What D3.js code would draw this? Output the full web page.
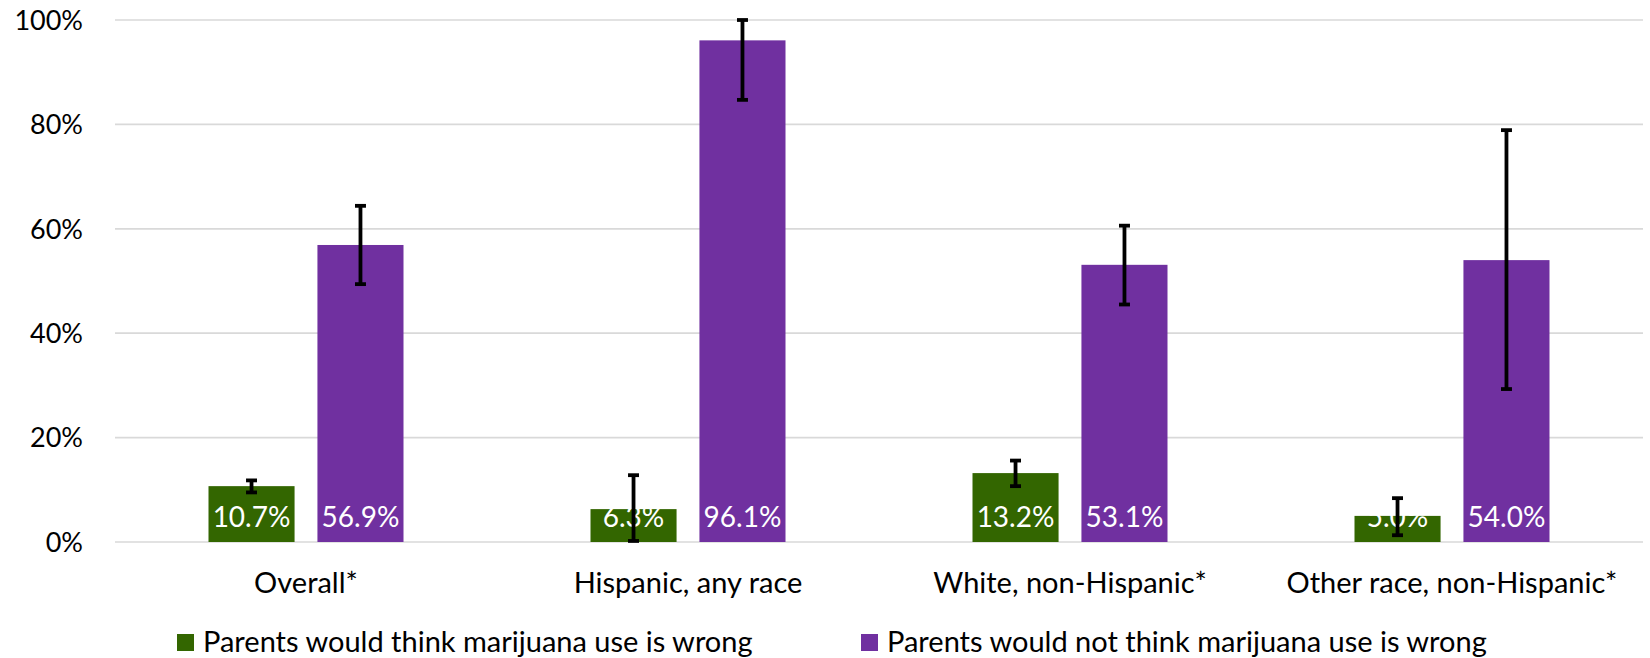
<!DOCTYPE html>
<html><head><meta charset="utf-8">
<script src="https://cdn.jsdelivr.net/npm/d3@7"></script>
<style>body{margin:0;background:#fff}svg{display:block}text{font-family:Lato,"Open Sans",sans-serif}</style>
</head><body><svg id="c" width="1650" height="658"></svg>
<script>
const categories = ["Overall*", "Hispanic, any race", "White, non-Hispanic*", "Other race, non-Hispanic*"];
const seriesNames = ["Parents would think marijuana use is wrong", "Parents would not think marijuana use is wrong"];
const wrongValues = [10.7, 6.3, 13.2, 5.0];
const notWrongValues = [56.9, 96.1, 53.1, 54.0];
const wrongLow = [9.5, 0.2, 10.7, 1.3];
const wrongHigh = [11.8, 12.8, 15.6, 8.4];
const notWrongLow = [49.4, 84.7, 45.5, 29.3];
const notWrongHigh = [64.4, 100, 60.6, 78.9];
const yTicks = [0, 20, 40, 60, 80, 100];
const colors = ["#336600", "#7030A0"];

const svg = d3.select("#c");
const mLeft = 115, mRight = 1643, mTop = 20, mBottom = 542;
const x = d3.scaleBand().domain(categories).range([mLeft, mRight]);
const y = d3.scaleLinear().domain([0, 100]).range([mBottom, mTop]);
const inner = d3.scaleBand().domain([0, 1]).range([0, 195]).paddingInner(0.21);

svg.append("g").selectAll("line").data(yTicks).join("line")
  .attr("x1", mLeft).attr("x2", mRight)
  .attr("y1", d => y(d)).attr("y2", d => y(d))
  .attr("stroke", "#d9d9d9").attr("stroke-width", 1.7);

svg.append("g").selectAll("text").data(yTicks).join("text")
  .attr("x", 83).attr("y", d => y(d)).attr("dy", "0.36em")
  .attr("text-anchor", "end").attr("font-size", 27).attr("fill", "#000")
  .text(d => d + "%");

const rows = categories.map((c, i) => [
  {c, s: 0, v: wrongValues[i], lo: wrongLow[i], hi: wrongHigh[i]},
  {c, s: 1, v: notWrongValues[i], lo: notWrongLow[i], hi: notWrongHigh[i]}
]).flat();
const bx = d => x(d.c) + (x.bandwidth() - 195) / 2 + inner(d.s);

svg.append("g").selectAll("rect").data(rows).join("rect")
  .attr("x", bx).attr("width", inner.bandwidth())
  .attr("y", d => y(d.v)).attr("height", d => y(0) - y(d.v))
  .attr("fill", d => colors[d.s]);

svg.append("g").selectAll("text").data(rows).join("text")
  .attr("x", d => bx(d) + inner.bandwidth() / 2).attr("y", mBottom - 15)
  .attr("text-anchor", "middle").attr("font-size", 28).attr("fill", "#fff")
  .text(d => d.v.toFixed(1) + "%");

const eb = svg.append("g").attr("stroke", "#000");
rows.forEach(d => {
  const cx = bx(d) + inner.bandwidth() / 2;
  eb.append("line").attr("x1", cx).attr("x2", cx).attr("y1", y(d.lo)).attr("y2", y(d.hi)).attr("stroke-width", 3.8);
  [d.lo, d.hi].forEach(v => eb.append("line").attr("x1", cx - 5.5).attr("x2", cx + 5.5).attr("y1", y(v)).attr("y2", y(v)).attr("stroke-width", 3.8));
});

svg.append("g").selectAll("text").data(categories).join("text")
  .attr("x", d => x(d) + x.bandwidth() / 2).attr("y", 593)
  .attr("text-anchor", "middle").attr("font-size", 29).attr("fill", "#000")
  .text(d => d);

const legX = [177, 861];
const lg = svg.append("g").selectAll("g").data(seriesNames).join("g")
  .attr("transform", (d, i) => `translate(${legX[i]},634)`);
lg.append("rect").attr("width", 17).attr("height", 17).attr("fill", (d, i) => colors[i]);
lg.append("text").attr("x", 26).attr("y", 18).attr("font-size", 29).attr("fill", "#000").text(d => d);
</script></body></html>
